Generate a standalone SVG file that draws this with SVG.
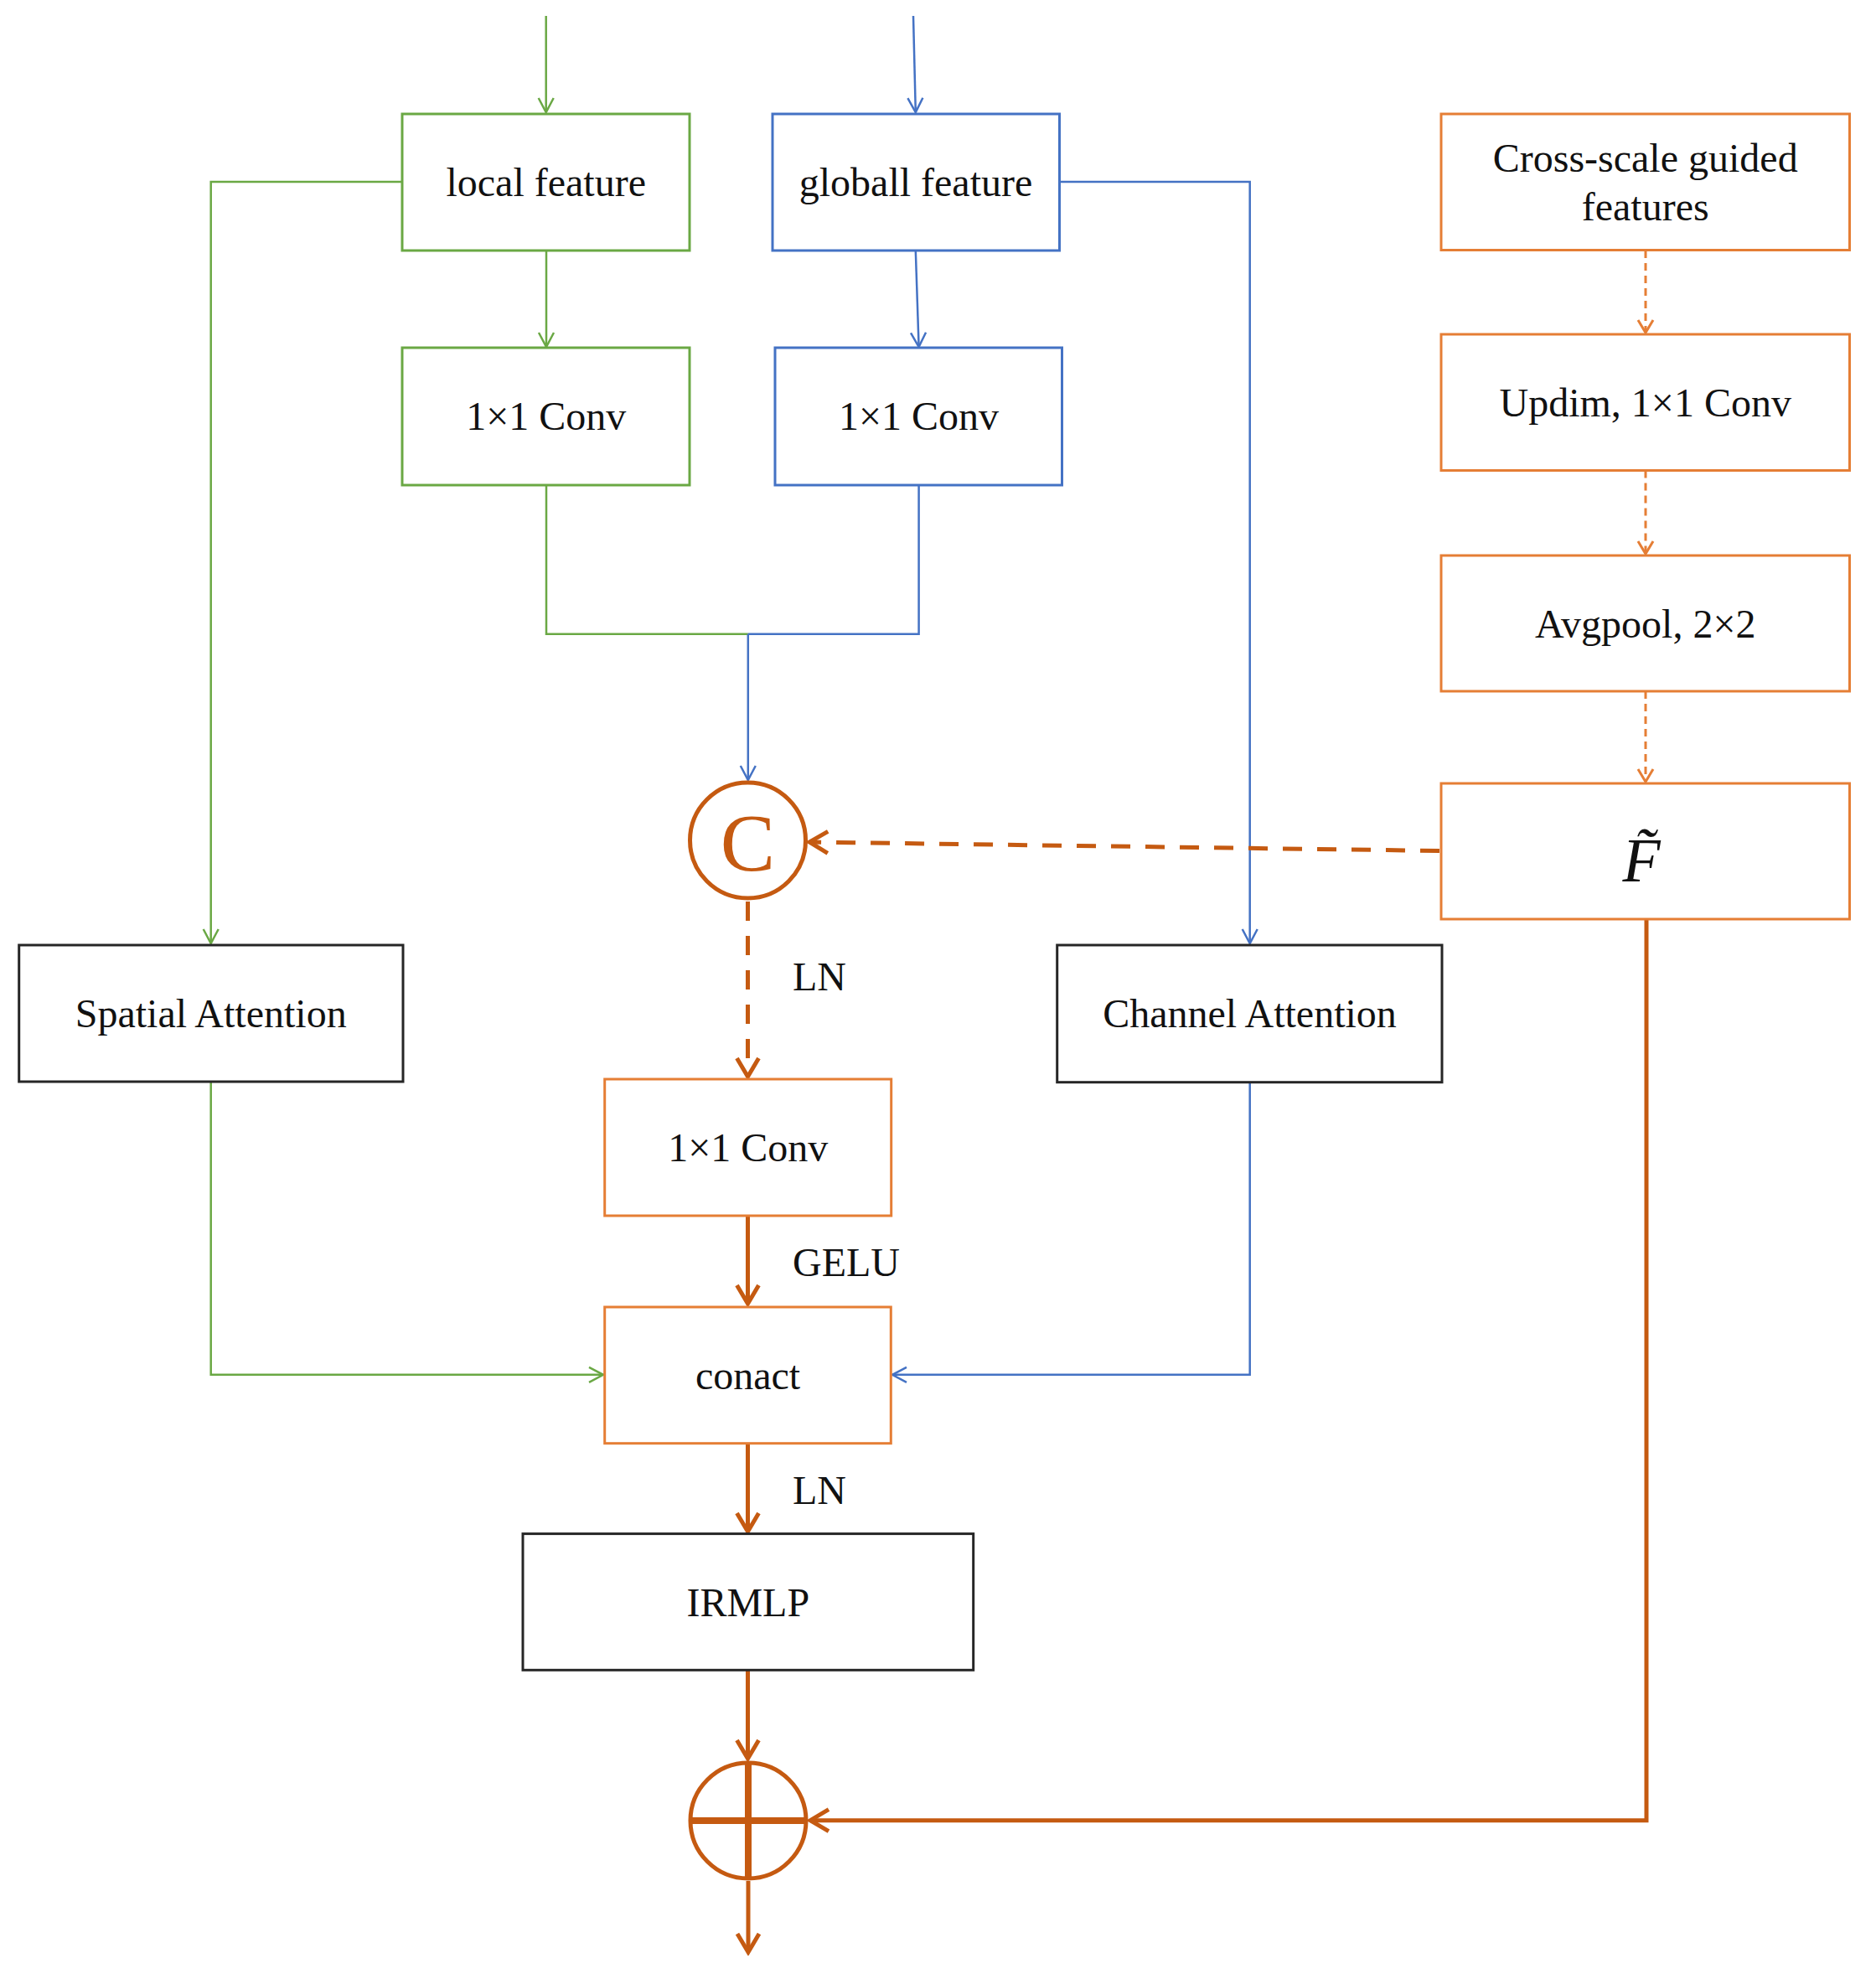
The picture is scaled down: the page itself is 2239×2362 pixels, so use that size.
<svg xmlns="http://www.w3.org/2000/svg" width="2239" height="2362" viewBox="0 0 2239 2362">
<style>
text{font-family:"Liberation Serif","Times New Roman",serif;font-size:48px;fill:#111;text-anchor:middle}
.g{fill:#fff;stroke:#6aa844;stroke-width:3}
.b{fill:#fff;stroke:#4472c4;stroke-width:3}
.o{fill:#fff;stroke:#e57e35;stroke-width:3}
.k{fill:#fff;stroke:#262626;stroke-width:3}
.cg{fill:none;stroke:#6aa844;stroke-width:2.5}
.cb{fill:none;stroke:#4472c4;stroke-width:2.5}
.cod{fill:none;stroke:#e57e35;stroke-width:3;stroke-dasharray:9 6}
.cot{fill:none;stroke:#c55a11;stroke-width:5}
.cotd{fill:none;stroke:#c55a11;stroke-width:5;stroke-dasharray:23 18}
.lab{text-anchor:start}
</style>
<defs>
<marker id="aG" markerUnits="userSpaceOnUse" viewBox="-22 -14 26 28" markerWidth="26" markerHeight="28" refX="0" refY="0" orient="auto">
<path d="M-17,-9 L0,0 L-17,9" fill="none" stroke="#6aa844" stroke-width="2.5"/>
</marker>
<marker id="aB" markerUnits="userSpaceOnUse" viewBox="-22 -14 26 28" markerWidth="26" markerHeight="28" refX="0" refY="0" orient="auto">
<path d="M-17,-9 L0,0 L-17,9" fill="none" stroke="#4472c4" stroke-width="2.5"/>
</marker>
<marker id="aO" markerUnits="userSpaceOnUse" viewBox="-22 -14 26 28" markerWidth="26" markerHeight="28" refX="0" refY="0" orient="auto">
<path d="M-15,-9 L0,0 L-15,9" fill="none" stroke="#e57e35" stroke-width="3"/>
</marker>
<marker id="aT" markerUnits="userSpaceOnUse" viewBox="-28 -18 32 36" markerWidth="32" markerHeight="36" refX="0" refY="0" orient="auto">
<path d="M-22,-13 L0,0 L-22,13" fill="none" stroke="#c55a11" stroke-width="5"/>
</marker>
</defs>

<g id="connectors">
<path class="cg" d="M651.7,19 V134" marker-end="url(#aG)"/>
<path class="cg" d="M652,299 V414" marker-end="url(#aG)"/>
<path class="cg" d="M480,217 H251.7 V1126" marker-end="url(#aG)"/>
<path class="cg" d="M251.7,1291 V1640.8 H720" marker-end="url(#aG)"/>
<path class="cg" d="M652,579 V756.7 H892.8"/>
<path class="cb" d="M1090,19 L1092.8,134" marker-end="url(#aB)"/>
<path class="cb" d="M1092.8,299 L1096.6,414" marker-end="url(#aB)"/>
<path class="cb" d="M1096.6,579 V756.7 H892.8"/>
<path class="cb" d="M892.8,756.7 V931" marker-end="url(#aB)"/>
<path class="cb" d="M1264.5,217 H1491.7 V1126" marker-end="url(#aB)"/>
<path class="cb" d="M1491.7,1291.7 V1640.8 H1065" marker-end="url(#aB)"/>
<path class="cod" d="M1964,299 V397" marker-end="url(#aO)"/>
<path class="cod" d="M1964,561.5 V661" marker-end="url(#aO)"/>
<path class="cod" d="M1964,825 V933" marker-end="url(#aO)"/>
<path class="cotd" d="M1718,1015.5 L966,1005" marker-end="url(#aT)"/>
<path class="cotd" d="M892.5,1076 V1285" marker-end="url(#aT)"/>
<path class="cot" d="M892.5,1451 V1556" marker-end="url(#aT)"/>
<path class="cot" d="M892.5,1723 V1828" marker-end="url(#aT)"/>
<path class="cot" d="M892.5,1994 V2099" marker-end="url(#aT)"/>
<path class="cot" d="M1965,1097 V2172.7 H967" marker-end="url(#aT)"/>
<path class="cot" d="M893,2245 V2330" marker-end="url(#aT)"/>
</g>

<g id="local-feature"><rect class="g" x="480" y="136" width="343" height="163"/><text x="651.7" y="234">local feature</text></g>
<g id="global-feature"><rect class="b" x="922" y="136" width="342.5" height="163"/><text x="1093" y="234">globall feature</text></g>
<g id="local-conv"><rect class="g" x="480" y="415" width="343" height="164"/><text x="651.7" y="513">1×1 Conv</text></g>
<g id="global-conv"><rect class="b" x="925" y="415" width="342.5" height="164"/><text x="1096.5" y="513">1×1 Conv</text></g>
<g id="cross-scale"><rect class="o" x="1720" y="136" width="487.5" height="162.5"/><text x="1963.7" y="205">Cross-scale guided</text><text x="1963.7" y="263">features</text></g>
<g id="updim"><rect class="o" x="1720" y="399" width="487.5" height="162.5"/><text x="1963.7" y="497">Updim, 1×1 Conv</text></g>
<g id="avgpool"><rect class="o" x="1720" y="663" width="487.5" height="162"/><text x="1963.7" y="761">Avgpool, 2×2</text></g>
<g id="f-tilde"><rect class="o" x="1720" y="935" width="487.5" height="162"/><text x="1959" y="1052" style="font-size:74px;font-style:italic">F̃</text></g>
<g id="spatial-attention"><rect class="k" x="22.7" y="1128" width="458.3" height="163"/><text x="251.7" y="1226">Spatial Attention</text></g>
<g id="channel-attention"><rect class="k" x="1261.7" y="1128" width="459.3" height="163.7"/><text x="1491.5" y="1226">Channel Attention</text></g>
<g id="concat-c"><circle cx="892.5" cy="1003" r="69" fill="#fff" stroke="#c55a11" stroke-width="5"/><text x="892.5" y="1039" style="font-size:98px;fill:#c55a11">C</text></g>
<g id="mid-conv"><rect class="o" x="721.7" y="1288" width="342" height="163"/><text x="892.7" y="1386">1×1 Conv</text></g>
<g id="conact"><rect class="o" x="721.7" y="1560" width="341.6" height="162.7"/><text x="892.5" y="1658">conact</text></g>
<g id="irmlp"><rect class="k" x="624" y="1830.6" width="537.7" height="162.7"/><text x="892.8" y="1929">IRMLP</text></g>
<g id="add"><circle cx="893" cy="2173" r="69" fill="#fff" stroke="#c55a11" stroke-width="5"/><path d="M824,2173 H962 M893,2104 V2242" stroke="#c55a11" stroke-width="8" fill="none"/></g>

<g id="labels">
<text class="lab" x="946" y="1182">LN</text>
<text class="lab" x="946" y="1523">GELU</text>
<text class="lab" x="946" y="1795">LN</text>
</g>
</svg>
